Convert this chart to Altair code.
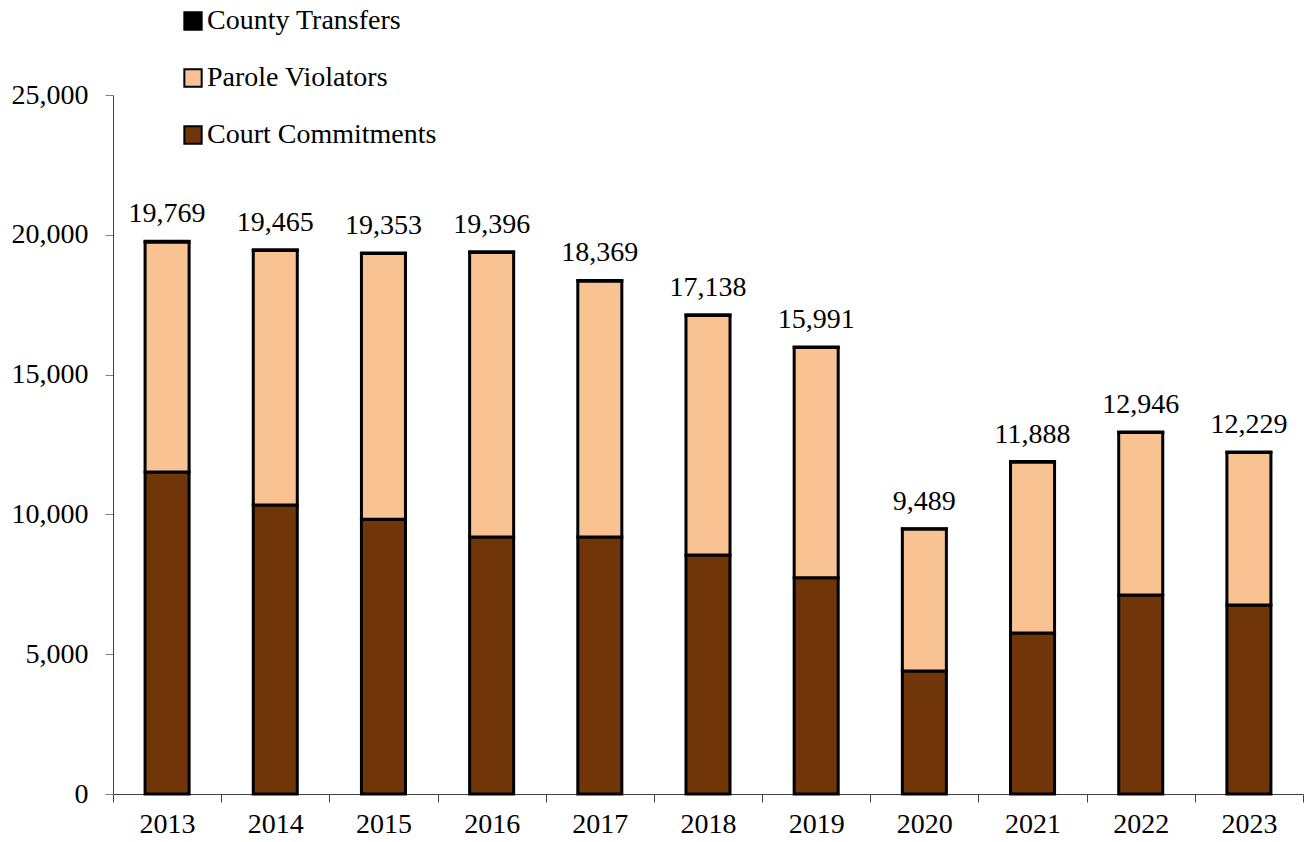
import altair as alt
import pandas as pd

years = ["2013", "2014", "2015", "2016", "2017", "2018", "2019", "2020", "2021", "2022", "2023"]
totals = [19769, 19465, 19353, 19396, 18369, 17138, 15991, 9489, 11888, 12946, 12229]
court = [11520, 10340, 9830, 9190, 9195, 8550, 7730, 4400, 5760, 7120, 6760]
county = [25, 25, 25, 25, 20, 20, 20, 10, 15, 15, 15]
parole = [t - c - k for t, c, k in zip(totals, court, county)]

series = ["County Transfers", "Parole Violators", "Court Commitments"]
colors = ["#000000", "#F9C292", "#703609"]

rows = []
for i, y in enumerate(years):
    rows.append({"year": y, "series": "Court Commitments", "value": court[i], "ord": 0})
    rows.append({"year": y, "series": "Parole Violators", "value": parole[i], "ord": 1})
    rows.append({"year": y, "series": "County Transfers", "value": county[i], "ord": 2})
df = pd.DataFrame(rows)
tot_df = pd.DataFrame({"year": years, "total": totals})

FONT = "Liberation Serif"
FS = 28

xscale = alt.Scale(paddingInner=0, paddingOuter=0)
yscale = alt.Scale(domain=[0, 25000], nice=False)

def xaxis():
    return alt.Axis(title=None, labelAngle=0, tickBand="extent", tickSize=8,
                    labelPadding=8, labelFontSize=FS, labelFont=FONT,
                    labelColor="black", domainColor="#404040", tickColor="#404040")

def yaxis():
    return alt.Axis(title=None, values=[0, 5000, 10000, 15000, 20000, 25000],
                    format=",.0f", grid=False, tickSize=8, labelPadding=17,
                    labelFontSize=FS, labelFont=FONT, labelColor="black",
                    domainColor="#404040", tickColor="#808080")

bars = alt.Chart(df).mark_bar(stroke="black", strokeWidth=3,
                              width=alt.RelativeBandSize(0.407)).encode(
    x=alt.X("year:N", scale=xscale, sort=years, axis=xaxis()),
    y=alt.Y("value:Q", stack="zero", scale=yscale, axis=yaxis()),
    color=alt.Color("series:N", scale=alt.Scale(domain=series, range=colors),
                    legend=alt.Legend(title=None, orient="none", legendX=66, legendY=-88,
                                      symbolType="square", symbolSize=300,
                                      symbolStrokeColor="black", symbolStrokeWidth=2,
                                      labelFontSize=FS, labelFont=FONT, labelColor="black",
                                      labelLimit=500, rowPadding=29, labelOffset=0)),
    order=alt.Order("ord:Q"),
)

labels = alt.Chart(tot_df).mark_text(baseline="alphabetic", dy=-19, fontSize=FS,
                                     font=FONT, color="black").encode(
    x=alt.X("year:N", sort=years, scale=xscale, axis=xaxis()),
    y=alt.Y("total:Q", scale=yscale, axis=yaxis()),
    text=alt.Text("total:Q", format=","),
)

chart = alt.layer(bars, labels).properties(
    width=1190, height=699,
    background="white",
    autosize=alt.AutoSizeParams(type="none"),
    padding={"left": 113, "top": 95, "right": 4, "bottom": 48},
).configure_view(stroke=None)

chart.save("out.html", embed_options={"renderer": "svg", "actions": False})
